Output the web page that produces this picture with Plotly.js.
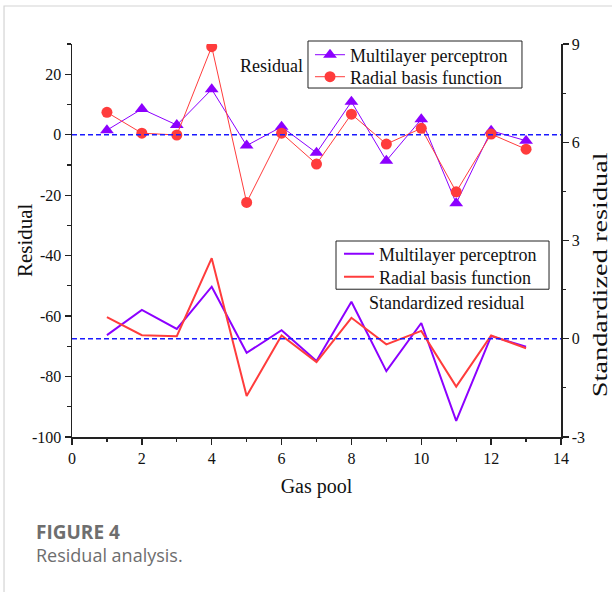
<!DOCTYPE html>
<html>
<head>
<meta charset="utf-8">
<script src="https://cdn.plot.ly/plotly-3.0.1.min.js"></script>
<style>
  html, body { margin: 0; padding: 0; background: #ffffff; }
  #chart { width: 612px; height: 592px; }
</style>
</head>
<body>
<div id="chart"></div>
<script>
// ---- Data ----
const gasPool = [1, 2, 3, 4, 5, 6, 7, 8, 9, 10, 11, 12, 13];
const mlpResidual = [1.5, 8.5, 3.2, 15.0, -3.6, 2.6, -6.0, 10.9, -8.6, 5.1, -22.7, 1.3, -2.0];
const rbfResidual = [7.4, 0.5, -0.1, 29.1, -22.4, 0.5, -9.7, 6.8, -3.1, 2.1, -18.9, 0.2, -4.8];
const mlpStdResidual = [0.11, 0.88, 0.30, 1.59, -0.43, 0.26, -0.68, 1.13, -0.99, 0.48, -2.51, 0.08, -0.24];
const rbfStdResidual = [0.66, 0.11, 0.08, 2.46, -1.75, 0.10, -0.71, 0.64, -0.17, 0.24, -1.46, 0.10, -0.29];

const xTickVals = [0, 2, 4, 6, 8, 10, 12, 14];
const xTickText = ['0', '2', '4', '6', '8', '10', '12', '14'];
const yLeftTickVals = [-100, -80, -60, -40, -20, 0, 20];
const yLeftTickText = ['-100', '-80', '-60', '-40', '-20', '0', '20'];
const yRightTickVals = [-3, 0, 3, 6, 9];
const yRightTickText = ['-3', '0', '3', '6', '9'];

const seriesNames = ['Multilayer perceptron', 'Radial basis function'];

// ---- Styles ----
const PURPLE = '#8c00ff';
const RED = '#ff3c3c';
const SERIF = 'Liberation Serif';
const AXIS_COLOR = '#222222';

const traces = [
  {
    x: gasPool, y: mlpResidual, name: seriesNames[0], type: 'scatter', mode: 'lines+markers',
    line: { color: PURPLE, width: 1 },
    marker: { symbol: 'triangle-up', size: 12, color: PURPLE },
    xaxis: 'x', yaxis: 'y', legend: 'legend'
  },
  {
    x: gasPool, y: rbfResidual, name: seriesNames[1], type: 'scatter', mode: 'lines+markers',
    line: { color: RED, width: 1 },
    marker: { symbol: 'circle', size: 11, color: RED },
    xaxis: 'x', yaxis: 'y', legend: 'legend2'
  },
  {
    x: gasPool, y: mlpStdResidual, name: seriesNames[0], type: 'scatter', mode: 'lines',
    line: { color: PURPLE, width: 2 },
    xaxis: 'x', yaxis: 'y2', legend: 'legend3'
  },
  {
    x: gasPool, y: rbfStdResidual, name: seriesNames[1], type: 'scatter', mode: 'lines',
    line: { color: RED, width: 2 },
    xaxis: 'x', yaxis: 'y2', legend: 'legend4'
  }
];

const tickFont = { family: SERIF, size: 16, color: '#111111' };
function legendAt(x, y) {
  return {
    font: { family: SERIF, size: 18, color: '#111111' },
    borderwidth: 0, bgcolor: 'rgba(0,0,0,0)',
    xanchor: 'left', yanchor: 'middle', itemwidth: 30,
    x: x, y: y
  };
}

const layout = {
  width: 612, height: 592,
  font: { family: SERIF, size: 18, color: '#111111' },
  margin: { l: 72, r: 51, t: 44, b: 155 },
  paper_bgcolor: '#ffffff', plot_bgcolor: '#ffffff',
  showlegend: true,
  xaxis: {
    range: [0, 14], tickmode: 'array', tickvals: xTickVals, ticktext: xTickText,
    ticks: 'outside', ticklen: 6, tickwidth: 1.3, tickcolor: AXIS_COLOR,
    minor: { tickmode: 'linear', tick0: 0, dtick: 1, ticks: 'outside', ticklen: 3.5, tickwidth: 1.2, tickcolor: AXIS_COLOR, showgrid: false },
    showline: true, linecolor: AXIS_COLOR, linewidth: 1.5, showgrid: false, zeroline: false,
    tickfont: tickFont,
    title: { text: 'Gas pool', font: { family: SERIF, size: 20, color: '#111111' }, standoff: 13 }
  },
  yaxis: {
    range: [-100, 30], tickmode: 'array', tickvals: yLeftTickVals, ticktext: yLeftTickText,
    ticks: 'outside', ticklen: 6, tickwidth: 1.3, tickcolor: AXIS_COLOR,
    minor: { tickmode: 'linear', tick0: 0, dtick: 10, ticks: 'outside', ticklen: 3.5, tickwidth: 1.2, tickcolor: AXIS_COLOR, showgrid: false },
    showline: true, linecolor: AXIS_COLOR, linewidth: 1.5, showgrid: false, zeroline: false,
    tickfont: tickFont
  },
  yaxis2: {
    overlaying: 'y', side: 'right',
    range: [-3, 9], tickmode: 'array', tickvals: yRightTickVals, ticktext: yRightTickText,
    ticks: 'outside', ticklen: 6, tickwidth: 1.3, tickcolor: AXIS_COLOR,
    minor: { tickmode: 'linear', tick0: 0, dtick: 1.5, ticks: 'outside', ticklen: 3.5, tickwidth: 1.2, tickcolor: AXIS_COLOR, showgrid: false },
    showline: true, linecolor: AXIS_COLOR, linewidth: 1.5, showgrid: false, zeroline: false,
    tickfont: tickFont
  },
  legend: legendAt(0.4867, 0.972),
  legend2: legendAt(0.4867, 0.916),
  legend3: legendAt(0.546, 0.4656),
  legend4: legendAt(0.546, 0.4071),
  shapes: [
    // light frame of the figure panel
    { type: 'rect', xref: 'paper', yref: 'paper', x0: -0.139, x1: 1.3, y0: -0.5, y1: 1.0967,
      line: { color: '#d4d4d4', width: 1.2 }, fillcolor: 'rgba(0,0,0,0)', layer: 'below' },
    // legend boxes
    { type: 'rect', xref: 'paper', yref: 'paper', x0: 0.4826, x1: 0.9202, y0: 0.888, y1: 1.0076,
      line: { color: AXIS_COLOR, width: 1 }, fillcolor: '#ffffff', layer: 'below' },
    { type: 'rect', xref: 'paper', yref: 'paper', x0: 0.5399, x1: 0.9755, y0: 0.376, y1: 0.4987,
      line: { color: AXIS_COLOR, width: 1 }, fillcolor: '#ffffff', layer: 'below' },
    // zero reference lines
    { type: 'line', xref: 'x', yref: 'y', x0: 0, x1: 14, y0: 0, y1: 0,
      line: { color: '#1a1aff', width: 1.5, dash: '5px,3px' } },
    { type: 'line', xref: 'x', yref: 'y2', x0: 0, x1: 14, y0: 0, y1: 0,
      line: { color: '#1a1aff', width: 1.5, dash: '5px,3px' } }
  ],
  annotations: [
    { text: 'Residual', xref: 'paper', yref: 'paper', x: -0.0961, y: 0.501, textangle: -90,
      showarrow: false, xanchor: 'center', yanchor: 'middle', font: { family: SERIF, size: 21, color: '#111111' } },
    { text: 'Standardized residual', xref: 'paper', yref: 'paper', x: 1.0798, y: 0.412, textangle: -90,
      showarrow: false, xanchor: 'center', yanchor: 'middle', font: { family: SERIF, size: 20, color: '#111111' } },
    { text: 'Residual', xref: 'paper', yref: 'paper', x: 0.407, y: 0.944,
      showarrow: false, xanchor: 'center', yanchor: 'middle', font: { family: SERIF, size: 18, color: '#111111' } },
    { text: 'Standardized residual', xref: 'paper', yref: 'paper', x: 0.765, y: 0.341,
      showarrow: false, xanchor: 'center', yanchor: 'middle', font: { family: SERIF, size: 18, color: '#111111' } },
    { text: '<b>FIGURE 4</b>', xref: 'paper', yref: 'paper', x: -0.0777, y: -0.2417,
      showarrow: false, xanchor: 'left', yanchor: 'middle', font: { family: 'Open Sans', size: 19, color: '#6e6e6e' } },
    { text: 'Residual analysis.', xref: 'paper', yref: 'paper', x: -0.0777, y: -0.300,
      showarrow: false, xanchor: 'left', yanchor: 'middle', font: { family: 'Open Sans', size: 18, color: '#6e6e6e' } }
  ]
};

Plotly.newPlot('chart', traces, layout, { displayModeBar: false, staticPlot: true }).then(function (gd) {
  // The reference's right-hand axis title is horizontally stretched; mimic its length.
  const ann = gd.querySelector('g.annotation[data-index="1"] .annotation-text');
  if (ann) {
    ann.setAttribute('textLength', '245');
    ann.setAttribute('lengthAdjust', 'spacingAndGlyphs');
  }
});
</script>
</body>
</html>
